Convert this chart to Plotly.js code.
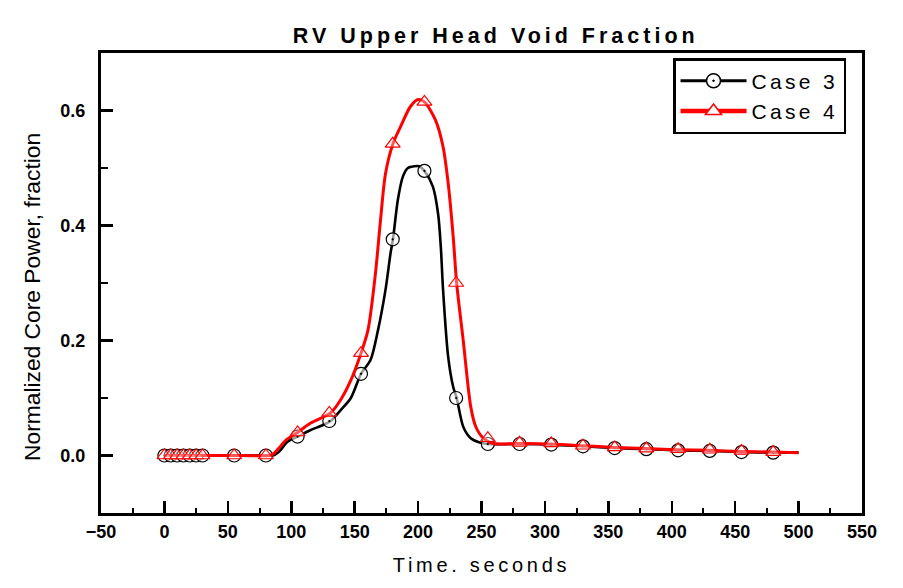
<!DOCTYPE html>
<html>
<head>
<meta charset="utf-8">
<script src="https://cdn.plot.ly/plotly-3.0.1.min.js"></script>
<style>
  html, body { margin: 0; padding: 0; background: #fff; }
  #chart { width: 903px; height: 588px; }
  .gtitle { letter-spacing: 4px; }
  .xtitle { letter-spacing: 3.7px; }
  .legendtext { letter-spacing: 3.3px; }
</style>
</head>
<body>
<div id="chart"></div>
<script>
// Case 3 curve (time s, value)
const case3LineT = [0, 30, 60, 85, 87, 91, 97, 105, 115, 125, 131, 139, 147, 155, 162.5, 168.4, 174.3, 178.3, 180.2, 184, 188, 192, 197, 201, 205, 211.6, 215.8, 218, 219.7, 223.7, 227.6, 230.4, 235.6, 241.5, 248, 255, 280, 305, 330, 355, 380, 405, 430, 455, 480, 500];
const case3LineV = [0, 0, 0, 0, 0.001, 0.008, 0.024, 0.033, 0.044, 0.053, 0.06, 0.079, 0.1, 0.142, 0.166, 0.218, 0.288, 0.352, 0.376, 0.444, 0.485, 0.5, 0.503, 0.503, 0.495, 0.468, 0.42, 0.36, 0.288, 0.172, 0.12, 0.1, 0.05, 0.03, 0.023, 0.02, 0.02, 0.019, 0.016, 0.013, 0.011, 0.009, 0.008, 0.006, 0.005, 0.005];

// Case 4 curve (time s, value)
const case4LineT = [0, 30, 60, 83, 86, 90, 96, 105, 115, 131, 139, 147, 155, 160.5, 166.4, 170.4, 174.3, 180.2, 186.2, 194, 200, 205, 213.8, 219.7, 223.7, 227.7, 230.4, 235.6, 241.5, 245.5, 251.5, 259.4, 280, 305, 330, 355, 380, 405, 430, 455, 480, 500];
const case4LineV = [0, 0, 0, 0, 0.003, 0.012, 0.027, 0.04, 0.056, 0.074, 0.097, 0.131, 0.178, 0.218, 0.317, 0.41, 0.49, 0.542, 0.572, 0.607, 0.619, 0.615, 0.583, 0.537, 0.474, 0.38, 0.3, 0.2, 0.085, 0.05, 0.03, 0.021, 0.021, 0.02, 0.017, 0.014, 0.012, 0.01, 0.009, 0.007, 0.006, 0.005];

// Marker samples
const markerT = [0, 5, 10, 15, 20, 25, 30, 55, 80, 105, 130, 155, 180, 205, 230, 255, 280, 305, 330, 355, 380, 405, 430, 455, 480];
const case3MarkV = [0, 0, 0, 0, 0, 0, 0, 0, 0, 0.033, 0.06, 0.142, 0.376, 0.495, 0.1, 0.02, 0.02, 0.019, 0.016, 0.013, 0.011, 0.009, 0.008, 0.006, 0.005];
const case4MarkV = [0, 0, 0, 0, 0, 0, 0, 0, 0, 0.04, 0.074, 0.178, 0.542, 0.615, 0.3, 0.03, 0.022, 0.021, 0.017, 0.014, 0.012, 0.011, 0.01, 0.008, 0.006];

const seriesNames = ['Case 3', 'Case 4'];
const xTickVals = [-50, 0, 50, 100, 150, 200, 250, 300, 350, 400, 450, 500, 550];
const yTickVals = [0, 0.2, 0.4, 0.6];

const BLACK = '#000000';
const RED = '#ff0000';

const traces = [
  { x: case3LineT, y: case3LineV, mode: 'lines', line: { color: BLACK, width: 2.6, shape: 'spline', smoothing: 0.8 }, showlegend: false, hoverinfo: 'skip' },
  { x: markerT, y: case3MarkV, mode: 'markers', marker: { symbol: 'circle-dot', size: 13, color: 'rgba(255,255,255,0.6)', line: { color: BLACK, width: 1.2 } }, showlegend: false },
  { x: case4LineT, y: case4LineV, mode: 'lines', line: { color: RED, width: 3, shape: 'spline', smoothing: 0.8 }, showlegend: false, hoverinfo: 'skip' },
  { x: markerT, y: case4MarkV, mode: 'markers', marker: { symbol: 'triangle-up', size: 13, color: 'rgba(255,255,255,0.35)', line: { color: RED, width: 1.2 } }, showlegend: false },
  { x: [null], y: [null], name: seriesNames[0], mode: 'lines+markers', line: { color: BLACK, width: 3 }, marker: { symbol: 'circle-dot', size: 14, color: '#ffffff', line: { color: BLACK, width: 1.5 } } },
  { x: [null], y: [null], name: seriesNames[1], mode: 'lines+markers', line: { color: RED, width: 4.5 }, marker: { symbol: 'triangle-up', size: 14, color: '#ffffff', line: { color: RED, width: 1.5 } } }
];

const FONT = 'Liberation Sans, Arial, Helvetica, sans-serif';

const layout = {
  width: 903, height: 588,
  margin: { l: 101, r: 41, t: 53, b: 75 },
  paper_bgcolor: '#ffffff', plot_bgcolor: '#ffffff',
  font: { family: FONT, color: '#000000' },
  title: { text: 'RV Upper Head Void Fraction', font: { family: FONT, size: 21.5, weight: 'bold', color: '#000' }, x: 0.549, xanchor: 'center', y: 0.94, yanchor: 'middle', xref: 'container', yref: 'container' },
  xaxis: {
    range: [-50, 550], tickvals: xTickVals, ticks: 'inside', ticklen: 12, tickwidth: 2.5, tickcolor: '#000',
    minor: { ticks: 'inside', ticklen: 5, tickwidth: 2, dtick: 25, tick0: 0, tickcolor: '#000' },
    showline: true, linewidth: 3, linecolor: '#000', mirror: true, showgrid: false, zeroline: false,
    tickfont: { family: FONT, size: 18, weight: 'bold' }, ticklabelstandoff: 0,
    title: { text: 'Time. seconds', font: { family: FONT, size: 20 }, standoff: 18 }
  },
  yaxis: {
    range: [-0.1, 0.7], tickvals: yTickVals, tickformat: '.1f', ticks: 'inside', ticklen: 12, tickwidth: 2.5, tickcolor: '#000',
    minor: { ticks: 'inside', ticklen: 7, tickwidth: 2, dtick: 0.1, tick0: 0, tickcolor: '#000' },
    showline: true, linewidth: 3, linecolor: '#000', mirror: true, showgrid: false, zeroline: false,
    tickfont: { family: FONT, size: 18, weight: 'bold' }, ticklabelstandoff: 9
  },
  annotations: [{
    text: 'Normalized Core Power, fraction', textangle: -90, showarrow: false,
    xref: 'paper', yref: 'paper', x: (32 - 101) / 761, y: (513 - 297) / 460, xanchor: 'center', yanchor: 'middle',
    font: { family: FONT, size: 22.8, color: '#000' }
  }],
  legend: {
    x: 0.979, y: 0.989, xanchor: 'right', yanchor: 'top',
    bgcolor: '#ffffff', bordercolor: '#000', borderwidth: 2.5,
    font: { family: FONT, size: 21, color: '#000' }, itemwidth: 66, tracegroupgap: 0
  },
  showlegend: true
};

Plotly.newPlot('chart', traces, layout, { displayModeBar: false, staticPlot: true });
</script>
</body>
</html>
